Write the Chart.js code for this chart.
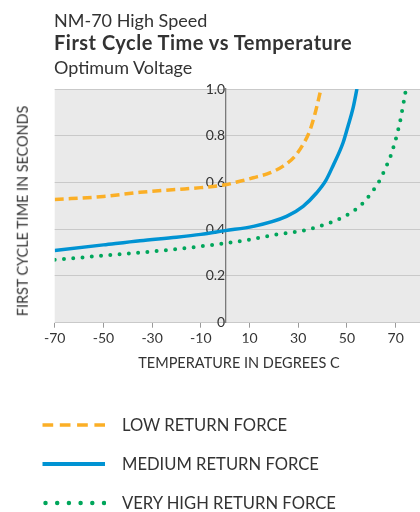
<!DOCTYPE html>
<html><head><meta charset="utf-8">
<script src="https://cdn.jsdelivr.net/npm/chart.js@4.4.1/dist/chart.umd.min.js"></script>
<style>
html,body{margin:0;padding:0;background:#fff;}
body{width:420px;height:512px;position:relative;overflow:hidden;font-family:Lato,"Open Sans",sans-serif;color:#333;}
#c{position:absolute;left:0;top:0;}
.t{position:absolute;left:54px;white-space:nowrap;line-height:1;font-size:18px;color:#333;}
#t2{font-weight:bold;font-size:20px;letter-spacing:0.5px;}
#ytitle{position:absolute;left:22.7px;top:211px;transform:translate(-50%,-50%) rotate(-90deg);white-space:nowrap;font-size:14.4px;line-height:1;color:#333;}
#xtitle{position:absolute;left:239px;top:363px;transform:translate(-50%,-50%);white-space:nowrap;font-size:14.5px;line-height:1;color:#333;}
#legend{position:absolute;left:0;top:0;}
.li{position:absolute;left:42px;height:20px;display:flex;align-items:center;transform:translateY(-50%);}
.li svg{width:64px;height:10px;}
.li span{position:absolute;left:80px;white-space:nowrap;font-size:16.6px;line-height:1;color:#333;}
</style></head><body>
<canvas id="c" width="420" height="512"></canvas>
<div class="t" id="t1" style="top:10.7px">NM-70 High Speed</div>
<div class="t" id="t2" style="top:32.3px">First Cycle Time vs Temperature</div>
<div class="t" id="t3" style="top:58px">Optimum Voltage</div>
<div id="ytitle">FIRST CYCLE TIME IN SECONDS</div>
<div id="xtitle">TEMPERATURE IN DEGREES C</div>
<div id="legend"></div>
<script>
// ---- data ----
const seriesNames = ['LOW RETURN FORCE', 'MEDIUM RETURN FORCE', 'VERY HIGH RETURN FORCE'];
const lowTemps  = [-70, -50, -35, -20, -10, 0, 6, 11.5, 18.3, 23.8, 28.6, 32, 34.7, 36.8, 38.5, 39.3];
const lowTimes  = [0.527, 0.540, 0.558, 0.570, 0.578, 0.590, 0.605, 0.620, 0.641, 0.670, 0.712, 0.763, 0.820, 0.891, 0.963, 1.0];
const medTemps  = [-70, -50, -35, -20, -10, 0, 11.5, 25.2, 32, 37.5, 41.3, 44.3, 48.4, 50.4, 52.5, 54.1];
const medTimes  = [0.309, 0.333, 0.351, 0.366, 0.378, 0.394, 0.412, 0.455, 0.498, 0.555, 0.608, 0.672, 0.770, 0.840, 0.918, 1.0];
const highTemps = [-70, -50, -35, -20, -10, 0, 9.4, 20.4, 32, 42.9, 49.8, 55.9, 60.7, 63.5, 66, 68, 69.5, 70.8, 71.9, 72.8, 73.5, 74];
const highTimes = [0.269, 0.287, 0.300, 0.315, 0.327, 0.340, 0.354, 0.376, 0.394, 0.427, 0.459, 0.505, 0.565, 0.610, 0.665, 0.715, 0.765, 0.815, 0.865, 0.915, 0.955, 0.985];
const xTickValues = [-70, -50, -30, -10, 10, 30, 50, 70];
const yTickValues = [0, 0.2, 0.4, 0.6, 0.8, 1.0];
const yTickLabels = ['0', '0.2', '0.4', '0.6', '0.8', '1.0'];

const colors = ['#FBAF26', '#0093D3', '#00A65B'];
const pts = (xs, ys) => xs.map((x, i) => ({x: x, y: ys[i]}));

const bgPlugin = {
  id: 'bg',
  beforeDraw(chart) {
    const a = chart.chartArea, ctx = chart.ctx;
    ctx.save(); ctx.fillStyle = '#EAEAEA';
    ctx.fillRect(a.left, a.top, a.right - a.left, a.bottom - a.top);
    ctx.restore();
  }
};

const datasets = [
  {label: seriesNames[0], data: pts(lowTemps, lowTimes), borderColor: colors[0], borderWidth: 3.5, borderDash: [9, 5], borderCapStyle: 'butt'},
  {label: seriesNames[1], data: pts(medTemps, medTimes), borderColor: colors[1], borderWidth: 3.5},
  {label: seriesNames[2], data: pts(highTemps, highTimes), borderColor: colors[2], borderWidth: 4, borderDash: [0, 9.3], borderCapStyle: 'round'}
];
datasets.forEach(d => { d.pointRadius = 0; d.fill = false; d.cubicInterpolationMode = 'monotone'; });

const chart = new Chart(document.getElementById('c'), {
  type: 'line',
  data: {datasets: datasets},
  plugins: [bgPlugin],
  options: {
    responsive: false, animation: false, devicePixelRatio: 1,
    layout: {padding: {left: 54.7, top: 89, right: 0, bottom: 169.3}},
    plugins: {legend: {display: false}, tooltip: {enabled: false}},
    scales: {
      x: {
        type: 'linear', position: 'bottom', min: -70, max: 80,
        afterBuildTicks: s => { s.ticks = xTickValues.map(v => ({value: v})); },
        afterFit: s => { s.height = 20; },
        border: {display: false},
        grid: {drawOnChartArea: false, drawTicks: true, tickLength: 5, color: '#9a9a9a'},
        ticks: {padding: 2, color: '#333', font: {family: 'Lato', size: 14}, maxRotation: 0, autoSkip: false,
                callback: v => String(v)}
      },
      y: {
        type: 'linear', position: {x: 0}, min: 0, max: 1,
        afterBuildTicks: s => { s.ticks = yTickValues.map(v => ({value: v})); },
        border: {display: true, color: '#7a7a7a', width: 1.3},
        grid: {drawTicks: false, tickLength: 0, color: '#c9c9c9', lineWidth: 1},
        ticks: {padding: 1, color: '#333', font: {family: 'Lato', size: 14},
                callback: (v, i) => yTickLabels[yTickValues.indexOf(v)] ?? String(v)}
      }
    }
  }
});

// HTML legend built from the datasets
const legendRows = [425, 464, 503];
const lg = document.getElementById('legend');
chart.data.datasets.forEach((d, i) => {
  const row = document.createElement('div');
  row.className = 'li';
  row.style.top = legendRows[i] + 'px';
  let dash = '', cap = 'butt', w = 4;
  if (i === 0) { dash = 'stroke-dasharray="10.7 6.6"'; w = 3.5; }
  if (i === 2) { dash = 'stroke-dasharray="0 11.7"'; cap = 'round'; w = 4.5; }
  const x1 = i === 2 ? 3.5 : 0.5, x2 = 63;
  row.innerHTML = '<svg viewBox="0 0 64 10"><line x1="' + x1 + '" y1="5" x2="' + x2 + '" y2="5" stroke="' + d.borderColor +
    '" stroke-width="' + w + '" stroke-linecap="' + cap + '" ' + dash + '/></svg><span>' + d.label + '</span>';
  lg.appendChild(row);
});
</script>
</body></html>
